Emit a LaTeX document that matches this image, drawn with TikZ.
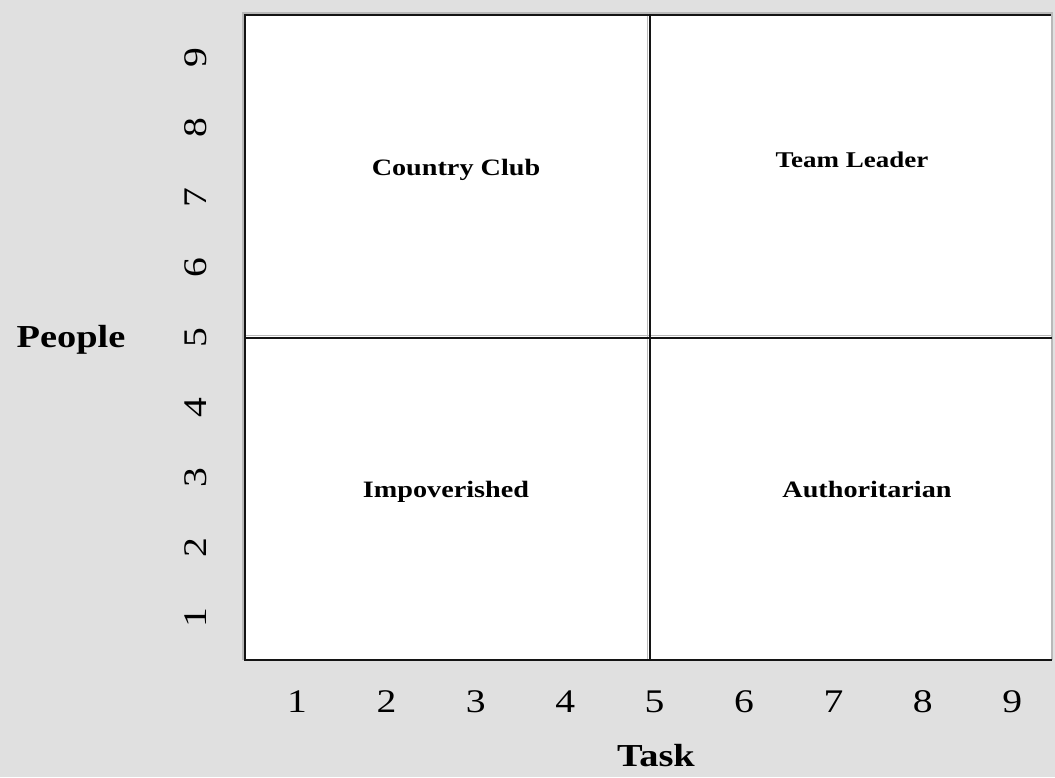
\documentclass[tikz,border=0pt]{standalone}
\usepackage{fontspec}
\setmainfont[FakeStretch=1.2]{Liberation Serif}
\definecolor{panelbg}{RGB}{224,224,224}
\definecolor{bevel}{RGB}{185,185,185}
\definecolor{rule}{RGB}{20,20,20}
\begin{document}
\begin{tikzpicture}[x=1pt,y=-1pt,
  frame/.style={line width=2pt,rule},
  bevelline/.style={line width=1.5pt,bevel},
  quadlabel/.style={font=\bfseries\fontsize{23.5}{28}\selectfont,anchor=base,inner sep=0pt},
  axisnum/.style={font=\fontsize{33}{38}\selectfont,inner sep=0pt},
  axistitle/.style={font=\bfseries\fontsize{32}{38}\selectfont,anchor=base,inner sep=0pt}]
  % background panel
  \fill[panelbg] (0,0) rectangle (1055,777);
  \useasboundingbox (0,0) rectangle (1055,777);
  % grid corners
  \coordinate (tl) at (245,15);
  \coordinate (tr) at (1051,15);
  \coordinate (bl) at (245,660);
  \coordinate (br) at (1052,660);
  \coordinate (tm) at (650,15);
  \coordinate (bm) at (650,660);
  \coordinate (ml) at (245,338);
  \coordinate (mr) at (1052,338);
  % white plotting field
  \fill[white] (tl) rectangle (br);
  % bevel highlights
  \draw[bevelline] (243,660) -- (243,13) -- (1052,13) -- (1052,660);
  \draw[bevelline] (647.5,15) -- (647.5,660);
  \draw[bevelline] (245,335.5) -- (1052,335.5);
  % quadrant frame
  \draw[frame] (tr) -- (tl) -- (bl) -- (br);
  \draw[frame] (tm) -- (bm);
  \draw[frame] (ml) -- (mr);
  % quadrant names
  \node[quadlabel] (club) at (456,175) {Country Club};
  \node[quadlabel,font=\bfseries\fontsize{22.5}{27}\selectfont] (team) at (852,167) {Team Leader};
  \node[quadlabel] (impov) at (446,497) {Impoverished};
  \node[quadlabel] (auth) at (867,497) {Authoritarian};
  % vertical scale
  \foreach \i in {1,...,9}
    \node[axisnum,rotate=90] (y\i) at (196,{338+70*(5-\i)}) {\i};
  % horizontal scale
  \foreach \i in {1,...,9}
    \node[axisnum,anchor=base] (x\i) at ({297+89.4*(\i-1)},712) {\i};
  % axis titles
  \node[axistitle] (people) at (71,347) {People};
  \node[axistitle] (task) at (656,766) {Task};
\end{tikzpicture}
\end{document}
